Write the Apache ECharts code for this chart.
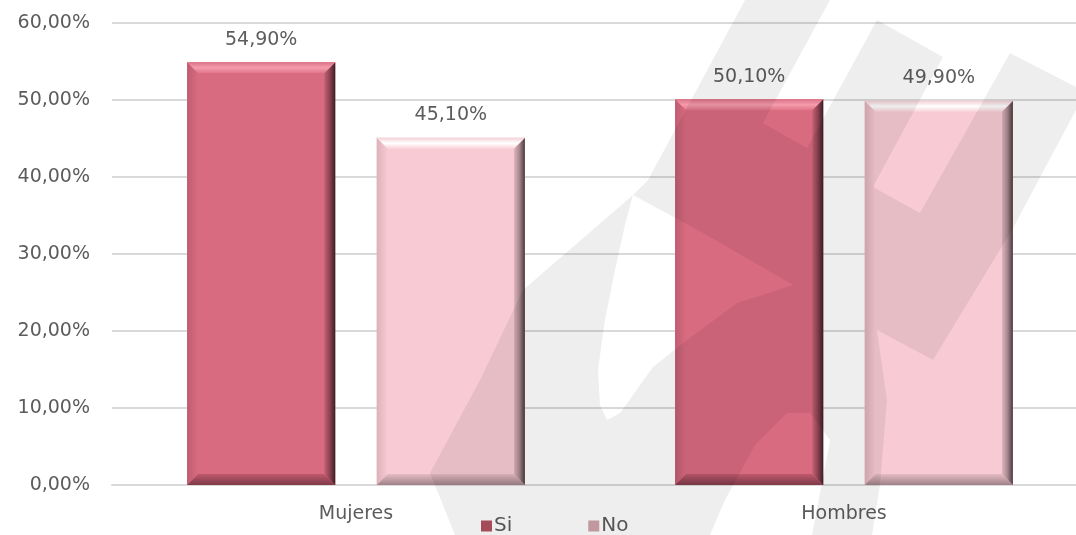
<!DOCTYPE html>
<html>
<head>
<meta charset="utf-8">
<script src="https://cdn.jsdelivr.net/npm/echarts@6/dist/echarts.min.js"></script>
<style>
    html, body { margin: 0; padding: 0; background: #fff; }
    #chart { width: 1076px; height: 535px; }
</style>
</head>
<body>
<div id="chart"></div>
<script>
// datos
var categories = ['Mujeres', 'Hombres'];
var seriesNames = ['Si', 'No'];
var siData = [54.9, 50.1];
var noData = [45.1, 49.9];
var yTicks = { min: 0, max: 60, interval: 10 };

var textColor = '#5c5c5c';
var fontName = 'DejaVu Sans';
var fontSize = 19;

function pct(v) {
    return v.toFixed(2).replace('.', ',') + '%';
}

// colores del bisel para cada serie
var palettes = [
    { face: '#d96b80', top: ['#dc7387', '#f59cad', '#e07488'], left: ['#bf5d71', '#d96b80'],
      right: ['#c46074', '#8e4251', '#3a1f25'], bottom: ['#bf596d', '#7e3a48'], icon: '#b0505f' },
    { face: '#f8cbd4', top: ['#f3d0d6', '#ffffff', '#f9d2d9'], left: ['#dcb1b9', '#f8cbd4'],
      right: ['#e0b6be', '#a88890', '#4a3a3e'], bottom: ['#e6bcc4', '#9f8188'], icon: '#cfa3ab' }
];

function grad(x2, y2, cols) {
    var stops = cols.map(function (c, i) { return { offset: i / (cols.length - 1), color: c }; });
    return new echarts.graphic.LinearGradient(0, 0, x2, y2, stops);
}

// barra con bisel dibujada desde las escalas del eje
function bevelBar(seriesIdx) {
    var pal = palettes[seriesIdx];
    return function (params, api) {
        var cat = api.value(0);
        var val = api.value(1);
        var base = api.coord([cat, 0]);
        var top = api.coord([cat, val]);
        var band = api.size([1, 0])[0];
        var bw = band * 0.3036;
        var gap = bw * 0.28;
        var cx = base[0] + (seriesIdx === 0 ? -1 : 1) * (bw + gap) / 2;
        var x0 = cx - bw / 2, x1 = cx + bw / 2, y0 = top[1], y1 = base[1];
        var b = 11;
        return {
            type: 'group',
            children: [
                {
                    type: 'rect',
                    shape: { x: x0, y: y0, width: bw, height: y1 - y0 },
                    style: { fill: pal.face },
                    textContent: {
                        style: { text: pct(val), fill: textColor, fontSize: fontSize, fontFamily: fontName }
                    },
                    textConfig: { position: 'top', distance: 13 }
                },
                {
                    type: 'polygon',
                    shape: { points: [[x0, y0], [x0 + b, y0 + b], [x0 + b, y1 - b], [x0, y1]] },
                    style: { fill: grad(1, 0, pal.left) }
                },
                {
                    type: 'polygon',
                    shape: { points: [[x0, y1], [x0 + b, y1 - b], [x1 - b, y1 - b], [x1, y1]] },
                    style: { fill: grad(0, 1, pal.bottom) }
                },
                {
                    type: 'polygon',
                    shape: { points: [[x1, y0], [x1, y1], [x1 - b, y1 - b], [x1 - b, y0 + b]] },
                    style: { fill: grad(1, 0, pal.right) }
                },
                {
                    type: 'polygon',
                    shape: { points: [[x0, y0], [x1, y0], [x1 - b, y0 + b], [x0 + b, y0 + b]] },
                    style: { fill: grad(0, 1, pal.top) }
                }
            ]
        };
    };
}

var chart = echarts.init(document.getElementById('chart'));

// marca de agua gris encima de todo
var wm = 'rgba(0,0,0,0.067)';
var watermark = [
    [[745, 0], [830, 0], [763, 123], [807, 148], [873, 187], [920, 213], [1010, 53], [1076, 87],
     [1076, 110], [1012, 230], [933, 360], [877, 330], [887, 400], [880, 485], [872, 535],
     [812, 535], [830, 440], [810, 413], [787, 413], [755, 445], [725, 500], [710, 535],
     [455, 535], [430, 473], [480, 380], [523, 290], [633, 195],
     [625, 225], [615, 270], [605, 320], [598, 370], [600, 405], [607, 420],
     [620, 413], [653, 367], [687, 340], [737, 303], [793, 285], [703, 233], [633, 195], [648, 180]],
    [[877, 20], [943, 57], [873, 187], [807, 148]]
].map(function (pts) {
    return {
        type: 'polygon',
        z: 100,
        silent: true,
        shape: { points: pts },
        style: { fill: wm }
    };
});

var option = {
    animation: false,
    backgroundColor: '#fff',
    textStyle: { fontFamily: fontName },
    // el area de trazado sobrepasa el borde derecho, como en el original
    grid: { left: 112, top: 23, width: 976, height: 462, outerBoundsMode: 'none' },
    legend: {
        bottom: -6,
        left: 476,
        itemWidth: 11,
        itemHeight: 11,
        itemGap: 76,
        icon: 'rect',
        textStyle: { color: textColor, fontSize: 20, fontFamily: fontName, padding: [0, 0, 0, -3] },
        data: seriesNames
    },
    xAxis: {
        type: 'category',
        data: categories,
        axisTick: { show: false },
        axisLine: { lineStyle: { color: '#d9d9d9', width: 2 } },
        axisLabel: { color: textColor, fontSize: fontSize, margin: 20, fontFamily: fontName }
    },
    yAxis: {
        type: 'value',
        min: yTicks.min,
        max: yTicks.max,
        interval: yTicks.interval,
        axisLine: { show: false },
        axisTick: { show: false },
        splitLine: { lineStyle: { color: '#d9d9d9', width: 2 } },
        axisLabel: { color: textColor, fontSize: fontSize, margin: 22, fontFamily: fontName, formatter: function (v) { return pct(v); } }
    },
    series: [
        {
            name: seriesNames[0],
            type: 'custom',
            renderItem: bevelBar(0),
            encode: { x: 0, y: 1 },
            itemStyle: { color: palettes[0].icon },
            data: siData.map(function (v, i) { return [i, v]; })
        },
        {
            name: seriesNames[1],
            type: 'custom',
            renderItem: bevelBar(1),
            encode: { x: 0, y: 1 },
            itemStyle: { color: palettes[1].icon },
            data: noData.map(function (v, i) { return [i, v]; })
        }
    ],
    graphic: watermark
};

chart.setOption(option);
</script>
</body>
</html>
